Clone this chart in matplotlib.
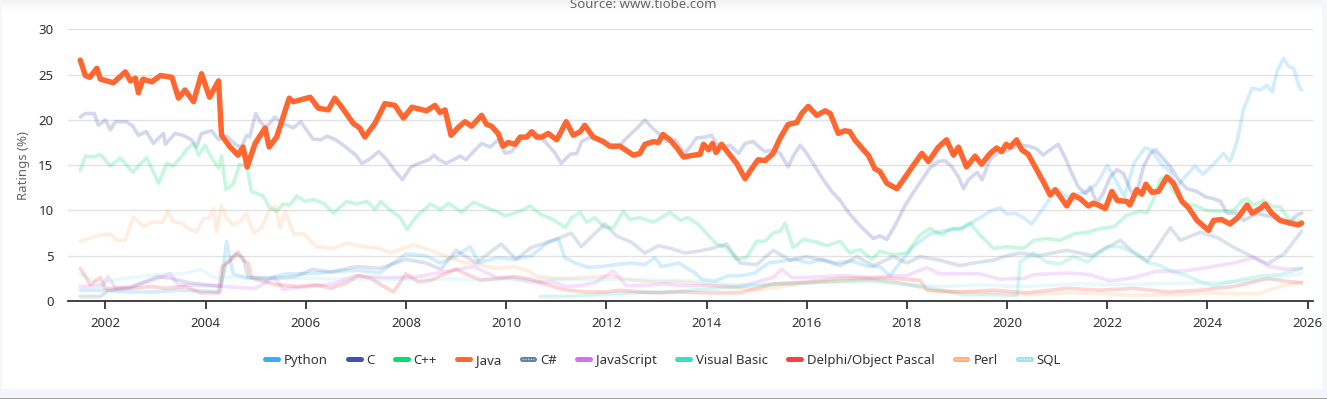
import matplotlib.pyplot as plt
from matplotlib.lines import Line2D
from matplotlib.patches import Rectangle

plt.rcParams['font.family'] = ['Noto Sans', 'DejaVu Sans']

# --- data (TIOBE ratings, %) ---
java_t = [2001.50, 2001.60, 2001.69, 2001.83, 2001.90, 2002.16, 2002.40, 2002.50, 2002.60, 2002.66,
          2002.75, 2002.93, 2003.10, 2003.33, 2003.46, 2003.59, 2003.76, 2003.92, 2004.08, 2004.26,
          2004.32, 2004.49, 2004.65, 2004.75, 2004.83, 2004.99, 2005.19, 2005.27, 2005.42, 2005.67,
          2005.75, 2006.09, 2006.25, 2006.45, 2006.58, 2006.72, 2006.95, 2007.08, 2007.18, 2007.38,
          2007.58, 2007.78, 2007.95, 2008.12, 2008.41, 2008.58, 2008.68, 2008.78, 2008.90, 2009.05,
          2009.18, 2009.31, 2009.51, 2009.61, 2009.71, 2009.84, 2009.94, 2010.04, 2010.18, 2010.28,
          2010.41, 2010.51, 2010.61, 2010.71, 2010.84, 2011.01, 2011.20, 2011.34, 2011.48, 2011.57,
          2011.74, 2011.94, 2012.07, 2012.27, 2012.54, 2012.67, 2012.77, 2012.94, 2013.04, 2013.13,
          2013.27, 2013.41, 2013.54, 2013.74, 2013.87, 2013.94, 2014.04, 2014.12, 2014.19, 2014.30,
          2014.47, 2014.60, 2014.77, 2014.90, 2015.03, 2015.17, 2015.33, 2015.47, 2015.63, 2015.80,
          2015.90, 2016.03, 2016.20, 2016.37, 2016.47, 2016.63, 2016.76, 2016.86, 2016.96, 2017.13,
          2017.23, 2017.36, 2017.46, 2017.60, 2017.80, 2017.93, 2018.13, 2018.30, 2018.43, 2018.63,
          2018.79, 2018.93, 2019.03, 2019.19, 2019.36, 2019.49, 2019.66, 2019.79, 2019.89, 2019.98,
          2020.06, 2020.19, 2020.29, 2020.42, 2020.59, 2020.72, 2020.86, 2020.96, 2021.09, 2021.19,
          2021.32, 2021.46, 2021.62, 2021.72, 2021.82, 2021.96, 2022.09, 2022.20, 2022.39, 2022.45,
          2022.59, 2022.69, 2022.77, 2022.89, 2023.02, 2023.19, 2023.32, 2023.49, 2023.62, 2023.79,
          2024.02, 2024.12, 2024.28, 2024.45, 2024.62, 2024.79, 2024.89, 2025.05, 2025.15, 2025.28,
          2025.45, 2025.65, 2025.81, 2025.88]
java_v = [26.6, 24.9, 24.7, 25.7, 24.5, 24.1, 25.3, 24.3, 24.6, 23.0,
          24.5, 24.2, 24.9, 24.7, 22.4, 23.3, 22.0, 25.1, 22.5, 24.3,
          18.3, 17.0, 16.1, 17.0, 14.8, 17.4, 19.1, 17.0, 18.1, 22.4,
          22.0, 22.5, 21.3, 21.1, 22.4, 21.4, 19.6, 19.1, 18.1, 19.6,
          21.8, 21.6, 20.2, 21.4, 21.0, 21.6, 20.8, 21.1, 18.3, 19.2,
          19.8, 19.3, 20.5, 19.5, 19.3, 18.5, 17.1, 17.5, 17.3, 18.1,
          18.1, 18.7, 18.1, 18.1, 18.5, 17.8, 19.8, 18.3, 18.7, 19.4,
          18.1, 17.6, 17.1, 17.1, 16.1, 16.3, 17.3, 17.6, 17.5, 18.4,
          17.8, 16.9, 15.9, 16.1, 16.2, 17.3, 16.7, 17.4, 16.4, 17.3,
          16.1, 15.2, 13.5, 14.6, 15.6, 15.5, 16.3, 18.0, 19.5, 19.7,
          20.7, 21.5, 20.5, 21.0, 20.7, 18.5, 18.8, 18.7, 17.8, 16.7,
          16.1, 14.6, 14.3, 13.0, 12.4, 13.4, 15.0, 16.3, 15.4, 17.0,
          17.8, 16.1, 17.0, 14.8, 16.0, 15.1, 16.3, 16.9, 16.5, 17.3,
          17.0, 17.8, 16.7, 16.2, 14.5, 13.2, 11.7, 12.3, 11.3, 10.5,
          11.7, 11.3, 10.5, 10.8, 10.6, 10.2, 12.1, 11.1, 11.0, 10.6,
          12.3, 11.8, 12.9, 12.0, 12.1, 13.7, 13.0, 11.0, 10.3, 8.9,
          7.8, 8.9, 9.0, 8.5, 9.3, 10.6, 9.7, 10.2, 10.7, 9.7,
          8.9, 8.6, 8.4, 8.6]

c_t = [2001.50, 2001.60, 2001.78, 2001.86, 2002.00, 2002.10, 2002.20, 2002.42, 2002.55, 2002.66,
       2002.82, 2002.96, 2003.16, 2003.20, 2003.39, 2003.55, 2003.72, 2003.82, 2003.92, 2004.12,
       2004.26, 2004.42, 2004.62, 2004.72, 2004.82, 2004.88, 2005.00, 2005.08, 2005.20, 2005.38,
       2005.55, 2005.75, 2005.90, 2006.14, 2006.30, 2006.43, 2006.60, 2006.80, 2007.00, 2007.12,
       2007.26, 2007.46, 2007.62, 2007.76, 2007.93, 2008.10, 2008.26, 2008.46, 2008.56, 2008.66,
       2008.80, 2008.95, 2009.08, 2009.20, 2009.35, 2009.51, 2009.68, 2009.84, 2009.98, 2010.11,
       2010.28, 2010.44, 2010.58, 2010.68, 2010.81, 2010.98, 2011.10, 2011.28, 2011.41, 2011.51,
       2011.64, 2011.80, 2011.97, 2012.10, 2012.24, 2012.37, 2012.54, 2012.67, 2012.77, 2012.90,
       2013.04, 2013.20, 2013.37, 2013.47, 2013.57, 2013.67, 2013.80, 2013.97, 2014.10, 2014.20,
       2014.34, 2014.47, 2014.64, 2014.77, 2014.93, 2015.07, 2015.17, 2015.33, 2015.47, 2015.63,
       2015.73, 2015.87, 2016.00, 2016.17, 2016.33, 2016.50, 2016.67, 2016.83, 2017.00, 2017.16,
       2017.33, 2017.46, 2017.60, 2017.76, 2017.96, 2018.13, 2018.30, 2018.46, 2018.63, 2018.76,
       2018.90, 2019.03, 2019.13, 2019.23, 2019.40, 2019.50, 2019.66, 2019.79, 2019.96, 2020.13,
       2020.26, 2020.43, 2020.59, 2020.72, 2020.86, 2021.02, 2021.16, 2021.29, 2021.42, 2021.56,
       2021.66, 2021.79, 2021.92, 2022.06, 2022.19, 2022.32, 2022.49, 2022.62, 2022.72, 2022.86,
       2022.96, 2023.09, 2023.26, 2023.42, 2023.59, 2023.79, 2023.96, 2024.12, 2024.26, 2024.39,
       2024.59, 2024.72, 2024.86, 2024.99, 2025.12, 2025.29, 2025.45, 2025.65, 2025.79, 2025.88]
c_v = [20.3, 20.7, 20.7, 19.4, 20.0, 18.9, 19.8, 19.8, 19.3, 18.3,
       18.7, 17.4, 18.5, 17.3, 18.5, 18.3, 17.8, 17.0, 18.5, 18.8,
       17.8, 18.2, 17.2, 17.0, 18.3, 18.1, 20.7, 19.9, 19.1, 20.3,
       19.6, 19.1, 19.8, 17.9, 17.8, 18.2, 17.8, 17.0, 16.1, 15.2,
       15.6, 16.5, 15.6, 14.5, 13.4, 14.8, 15.2, 15.6, 16.1, 15.6,
       15.2, 15.6, 16.0, 15.6, 16.5, 17.4, 17.0, 17.8, 16.3, 16.5,
       17.8, 18.3, 18.7, 18.1, 17.4, 16.3, 15.2, 16.2, 16.3, 17.6,
       18.0, 18.0, 17.4, 16.9, 17.0, 17.8, 18.7, 19.4, 20.0, 19.2,
       18.5, 17.6, 17.8, 17.0, 16.3, 17.0, 18.0, 18.1, 18.3, 17.4,
       17.0, 17.2, 16.3, 17.4, 17.6, 16.9, 16.5, 16.7, 16.3, 14.8,
       16.0, 17.2, 16.3, 14.8, 13.4, 12.1, 11.1, 9.8, 8.7, 7.8,
       6.9, 7.2, 6.8, 8.3, 10.5, 12.0, 13.4, 14.7, 15.4, 15.5,
       14.8, 13.7, 12.4, 13.4, 14.2, 13.4, 15.6, 16.3, 16.5, 17.0,
       17.2, 17.1, 16.8, 16.1, 16.7, 17.3, 15.8, 14.1, 12.6, 11.9,
       12.6, 10.8, 11.9, 13.7, 14.5, 14.1, 11.9, 12.6, 14.8, 16.3,
       16.7, 15.9, 14.8, 13.4, 12.4, 12.1, 11.5, 11.3, 11.0, 9.7,
       9.7, 8.9, 9.3, 9.7, 9.5, 9.3, 8.8, 8.8, 9.5, 9.7]

cpp_t = [2001.50, 2001.60, 2001.77, 2001.90, 2002.10, 2002.30, 2002.55, 2002.67, 2002.83, 2003.06,
         2003.23, 2003.35, 2003.50, 2003.63, 2003.76, 2003.86, 2003.99, 2004.12, 2004.26, 2004.32,
         2004.41, 2004.55, 2004.68, 2004.82, 2004.92, 2005.15, 2005.28, 2005.42, 2005.55, 2005.68,
         2005.82, 2005.99, 2006.16, 2006.36, 2006.55, 2006.82, 2007.02, 2007.22, 2007.39, 2007.49,
         2007.72, 2007.89, 2008.02, 2008.22, 2008.49, 2008.69, 2008.85, 2009.11, 2009.35, 2009.61,
         2009.84, 2009.98, 2010.28, 2010.48, 2010.68, 2010.94, 2011.18, 2011.31, 2011.48, 2011.61,
         2011.77, 2011.97, 2012.14, 2012.34, 2012.47, 2012.67, 2012.94, 2013.27, 2013.47, 2013.63,
         2013.83, 2014.04, 2014.20, 2014.40, 2014.60, 2014.80, 2015.00, 2015.17, 2015.33, 2015.47,
         2015.57, 2015.73, 2015.93, 2016.20, 2016.40, 2016.67, 2016.86, 2017.06, 2017.30, 2017.46,
         2017.73, 2018.00, 2018.26, 2018.46, 2018.70, 2018.90, 2019.06, 2019.26, 2019.46, 2019.73,
         2019.99, 2020.33, 2020.53, 2020.79, 2021.06, 2021.33, 2021.60, 2021.86, 2022.13, 2022.39,
         2022.66, 2022.79, 2022.93, 2023.06, 2023.19, 2023.32, 2023.52, 2023.72, 2023.99, 2024.26,
         2024.52, 2024.69, 2024.79, 2024.92, 2025.12, 2025.32, 2025.45, 2025.65, 2025.88]
cpp_v = [14.4, 16.0, 15.9, 16.2, 14.9, 15.8, 14.2, 15.0, 15.8, 13.0,
         15.2, 14.9, 15.8, 16.8, 17.4, 16.1, 17.2, 15.8, 14.7, 16.0,
         12.3, 12.9, 15.1, 14.9, 12.1, 11.6, 10.3, 9.9, 10.7, 10.6,
         11.6, 11.0, 11.2, 10.8, 9.7, 11.0, 10.7, 11.0, 10.1, 11.0,
         9.9, 9.2, 7.9, 9.4, 10.7, 10.1, 10.8, 9.8, 10.9, 10.3,
         9.8, 9.4, 9.9, 10.5, 9.6, 9.0, 8.1, 9.2, 9.8, 8.7,
         9.2, 8.1, 8.1, 9.9, 9.0, 9.2, 8.7, 9.8, 8.9, 9.2,
         8.5, 7.2, 6.3, 5.9, 4.6, 4.8, 6.6, 6.6, 7.5, 7.7,
         8.6, 5.9, 6.8, 6.5, 6.1, 6.6, 5.3, 5.7, 4.6, 5.5,
         5.1, 5.3, 7.3, 8.0, 7.3, 8.0, 7.9, 8.6, 7.3, 5.8,
         6.0, 5.8, 6.7, 6.9, 6.7, 7.4, 7.6, 8.0, 8.2, 9.5,
         9.9, 9.7, 11.3, 13.5, 13.7, 12.1, 10.8, 10.6, 10.0, 9.9,
         10.0, 11.1, 11.3, 10.6, 11.1, 10.4, 10.4, 8.8, 8.8]

python_t = [2001.50, 2002.00, 2002.50, 2003.00, 2003.50, 2004.00, 2004.30, 2004.42, 2004.55, 2004.80,
            2005.20, 2005.60, 2006.00, 2006.50, 2007.00, 2007.48, 2008.00, 2008.40, 2008.68, 2009.00,
            2009.28, 2009.46, 2009.84, 2010.15, 2010.51, 2010.84, 2011.04, 2011.17, 2011.37, 2011.64,
            2011.90, 2012.17, 2012.50, 2012.77, 2012.97, 2013.10, 2013.44, 2013.77, 2013.90, 2014.17,
            2014.44, 2014.70, 2014.97, 2015.24, 2015.50, 2015.77, 2016.04, 2016.30, 2016.57, 2016.90,
            2017.24, 2017.46, 2017.66, 2017.86, 2018.13, 2018.46, 2018.79, 2019.13, 2019.46, 2019.66,
            2019.86, 2019.99, 2020.16, 2020.33, 2020.49, 2020.73, 2020.99, 2021.19, 2021.40, 2021.60,
            2021.80, 2022.00, 2022.20, 2022.34, 2022.54, 2022.75, 2022.88, 2023.08, 2023.25, 2023.38,
            2023.55, 2023.75, 2023.91, 2024.12, 2024.32, 2024.45, 2024.59, 2024.72, 2024.89, 2025.05,
            2025.19, 2025.29, 2025.39, 2025.52, 2025.62, 2025.72, 2025.82, 2025.88]
python_v = [1.2, 1.2, 1.0, 1.0, 1.2, 1.1, 1.0, 6.6, 3.0, 2.6,
            2.4, 3.0, 3.0, 3.2, 3.4, 3.1, 5.2, 5.0, 4.2, 5.0,
            6.0, 4.2, 4.8, 4.6, 5.0, 6.5, 6.9, 4.8, 4.2, 3.7,
            3.8, 4.0, 4.2, 4.0, 4.8, 3.8, 4.2, 3.1, 2.4, 2.2,
            2.8, 2.8, 3.1, 4.2, 4.4, 4.6, 4.2, 4.6, 4.2, 4.4,
            3.8, 3.8, 2.8, 4.2, 6.0, 7.4, 7.8, 8.1, 9.2, 9.9,
            10.3, 9.6, 9.7, 9.2, 8.5, 10.3, 12.4, 11.5, 11.8, 12.0,
            13.0, 15.0, 13.0, 11.5, 15.3, 16.9, 16.7, 15.1, 14.3, 12.6,
            13.7, 14.9, 14.0, 15.1, 16.3, 15.4, 17.6, 21.2, 23.5, 23.3,
            23.8, 23.1, 25.4, 26.8, 25.9, 25.7, 23.8, 23.3]

csharp_t = [2001.50, 2001.90, 2002.05, 2002.50, 2003.05, 2003.30, 2003.70, 2004.00, 2004.30, 2004.40,
            2004.60, 2004.75, 2004.85, 2005.00, 2005.40, 2005.80, 2006.14, 2006.50, 2007.00, 2007.48,
            2008.00, 2008.40, 2008.70, 2009.00, 2009.40, 2009.90, 2010.20, 2010.50, 2011.00, 2011.30,
            2011.50, 2011.97, 2012.20, 2012.50, 2012.77, 2013.04, 2013.30, 2013.57, 2013.84, 2014.10,
            2014.40, 2014.67, 2015.00, 2015.33, 2015.67, 2016.00, 2016.33, 2016.67, 2017.00, 2017.33,
            2017.73, 2018.00, 2018.26, 2018.66, 2019.06, 2019.33, 2019.73, 2019.99, 2020.26, 2020.60,
            2021.20, 2021.70, 2022.26, 2022.50, 2022.80, 2023.26, 2023.46, 2023.86, 2024.20, 2024.53,
            2024.93, 2025.20, 2025.53, 2025.88]
csharp_v = [0.5, 0.5, 1.1, 1.5, 2.7, 2.5, 2.0, 1.8, 1.6, 4.0,
            5.2, 4.8, 2.6, 2.6, 2.5, 2.7, 3.5, 3.2, 3.8, 3.6,
            4.6, 4.2, 3.5, 5.6, 4.2, 6.3, 4.6, 5.9, 6.8, 7.5,
            6.0, 8.5, 7.2, 6.5, 5.3, 6.1, 5.8, 5.3, 5.5, 5.8,
            6.3, 4.2, 4.0, 5.6, 4.5, 4.9, 4.5, 3.9, 4.9, 3.9,
            4.9, 4.2, 4.9, 4.5, 3.9, 4.2, 4.5, 5.0, 5.3, 5.0,
            5.6, 5.0, 6.7, 5.5, 4.4, 8.1, 6.7, 7.6, 7.0, 5.9,
            4.8, 4.1, 5.2, 7.7]

js_t = [2001.50, 2001.95, 2002.05, 2002.20, 2002.50, 2003.00, 2003.30, 2003.45, 2003.90, 2004.20,
        2004.60, 2005.00, 2005.37, 2005.55, 2006.10, 2006.55, 2007.00, 2007.48, 2008.15, 2008.82,
        2009.35, 2009.81, 2010.15, 2010.48, 2010.94, 2011.20, 2011.50, 2011.80, 2012.14, 2012.40,
        2012.80, 2013.14, 2013.48, 2014.00, 2014.67, 2015.33, 2015.50, 2015.70, 2016.00, 2016.67,
        2017.33, 2017.73, 2018.00, 2018.40, 2018.66, 2019.06, 2019.46, 2019.86, 2020.33, 2020.53,
        2021.20, 2021.66, 2022.06, 2022.53, 2022.99, 2023.53, 2024.00, 2024.53, 2024.93, 2025.20,
        2025.53, 2025.88]
js_v = [1.6, 1.7, 2.7, 1.5, 1.5, 2.4, 3.0, 1.8, 1.7, 1.7,
        1.5, 1.4, 2.6, 1.3, 1.6, 1.9, 2.8, 2.6, 2.6, 3.3,
        3.8, 2.6, 2.5, 2.1, 2.1, 1.6, 1.7, 2.1, 3.3, 1.7,
        1.7, 1.9, 1.7, 1.7, 1.6, 2.6, 3.5, 2.6, 2.6, 2.8,
        2.6, 2.8, 2.8, 3.7, 3.0, 3.0, 3.0, 2.4, 2.5, 2.9,
        3.1, 2.9, 2.2, 2.6, 3.3, 3.3, 3.7, 4.2, 4.8, 3.9,
        3.5, 3.6]

vb_t = [2010.68, 2011.20, 2011.80, 2012.50, 2013.20, 2014.00, 2014.70, 2015.30, 2016.00, 2016.70,
        2017.30, 2017.80, 2018.50, 2019.10, 2019.70, 2020.20, 2020.26, 2020.53, 2020.79, 2021.06,
        2021.33, 2021.60, 2021.99, 2022.26, 2022.53, 2022.79, 2023.06, 2023.32, 2023.59, 2023.86,
        2024.12, 2024.46, 2024.79, 2025.12, 2025.45, 2025.88]
vb_v = [0.5, 0.5, 0.7, 0.9, 1.0, 1.3, 1.6, 1.8, 2.0, 2.2,
        2.3, 2.0, 1.4, 0.7, 0.7, 0.6, 4.3, 5.3, 4.3, 4.1,
        4.9, 4.3, 6.0, 6.0, 5.3, 4.3, 3.9, 3.2, 2.8, 2.1,
        1.7, 2.1, 2.5, 2.8, 2.9, 3.6]

delphi_t = [2001.50, 2001.70, 2001.90, 2002.00, 2002.55, 2002.90, 2003.20, 2003.60, 2003.90, 2004.26,
            2004.33, 2004.50, 2004.65, 2004.75, 2004.85, 2004.92, 2005.00, 2005.20, 2005.40, 2005.85,
            2006.20, 2006.50, 2006.85, 2007.05, 2007.30, 2007.50, 2007.75, 2008.00, 2008.25, 2008.50,
            2008.82, 2009.00, 2009.48, 2009.88, 2010.15, 2010.41, 2010.94, 2011.20, 2011.60, 2012.00,
            2012.27, 2012.67, 2013.07, 2013.48, 2014.00, 2014.67, 2015.33, 2016.00, 2016.67, 2017.33,
            2017.73, 2018.26, 2018.40, 2019.06, 2019.73, 2020.39, 2021.20, 2021.86, 2022.53, 2023.20,
            2023.86, 2024.53, 2025.20, 2025.53, 2025.88]
delphi_v = [3.6, 1.8, 2.6, 1.4, 1.4, 1.6, 1.4, 1.6, 0.9, 0.9,
            3.8, 4.5, 5.4, 4.5, 4.2, 2.6, 2.4, 2.1, 1.8, 1.6,
            1.8, 1.4, 2.1, 2.8, 2.5, 1.8, 1.0, 3.0, 2.1, 2.3,
            3.1, 3.5, 2.3, 2.5, 2.7, 2.5, 1.6, 1.2, 1.0, 1.0,
            1.2, 1.0, 0.9, 1.0, 0.9, 0.9, 1.9, 2.1, 2.5, 2.5,
            2.5, 2.3, 1.2, 1.0, 1.2, 0.9, 1.4, 1.2, 1.4, 1.0,
            1.2, 1.6, 2.5, 2.2, 2.0]

perl_t = [2001.50, 2001.83, 2002.10, 2002.23, 2002.40, 2002.56, 2002.76, 2002.93, 2003.15, 2003.25,
          2003.35, 2003.52, 2003.69, 2003.82, 2003.96, 2004.06, 2004.16, 2004.22, 2004.32, 2004.42,
          2004.56, 2004.69, 2004.82, 2004.96, 2005.12, 2005.26, 2005.39, 2005.49, 2005.59, 2005.76,
          2005.96, 2006.22, 2006.55, 2006.82, 2007.15, 2007.48, 2007.70, 2008.15, 2008.48, 2008.82,
          2009.15, 2009.48, 2009.81, 2010.15, 2010.41, 2010.61, 2010.94, 2011.34, 2011.74, 2012.14,
          2012.54, 2012.94, 2013.48, 2013.88, 2014.50, 2015.00, 2015.50, 2016.00, 2016.60, 2017.20,
          2017.70, 2018.20, 2018.60, 2019.20, 2019.80, 2020.30, 2020.80, 2021.30, 2022.00, 2022.50,
          2023.00, 2023.50, 2024.00, 2024.50, 2025.00, 2025.40, 2025.88]
perl_v = [6.6, 7.2, 7.4, 6.7, 6.7, 9.3, 8.2, 8.7, 8.7, 10.0,
          8.8, 8.6, 7.9, 7.6, 9.1, 9.1, 10.2, 7.6, 10.5, 9.1,
          8.4, 8.8, 9.7, 7.5, 8.1, 9.9, 10.5, 8.1, 9.9, 7.4,
          7.4, 6.0, 5.8, 6.4, 6.0, 5.8, 5.3, 6.2, 5.6, 4.9,
          4.3, 4.0, 3.6, 3.8, 3.4, 2.7, 2.5, 2.5, 2.7, 2.7,
          2.3, 2.1, 2.1, 1.9, 1.5, 1.2, 1.6, 2.0, 2.2, 2.4,
          2.2, 1.6, 1.0, 1.0, 0.9, 0.7, 0.8, 0.9, 0.8, 0.6,
          0.7, 0.7, 0.9, 0.8, 0.8, 1.5, 2.1]

sql_t = [2001.50, 2001.90, 2002.23, 2002.56, 2003.23, 2003.56, 2003.90, 2004.16, 2004.56, 2005.00,
         2006.00, 2007.00, 2008.00, 2009.00, 2010.00, 2011.00, 2012.00, 2013.00, 2013.80, 2014.50,
         2015.50, 2016.50, 2017.46, 2018.00, 2018.70, 2019.50, 2020.13, 2020.80, 2021.46, 2022.20,
         2023.00, 2023.80, 2024.50, 2025.20, 2025.88]
sql_v = [3.0, 1.9, 2.4, 2.6, 3.0, 3.0, 3.5, 2.6, 2.6, 2.5,
         2.5, 2.4, 2.4, 2.4, 2.4, 2.4, 2.4, 2.3, 2.2, 1.8,
         1.9, 2.1, 2.1, 1.8, 1.6, 1.8, 1.6, 1.7, 1.9, 1.8,
         1.9, 2.0, 2.1, 2.4, 3.0]

languages = ['Python', 'C', 'C++', 'Java', 'C#', 'JavaScript', 'Visual Basic',
             'Delphi/Object Pascal', 'Perl', 'SQL']
series = {
    'Python': (python_t, python_v), 'C': (c_t, c_v), 'C++': (cpp_t, cpp_v),
    'Java': (java_t, java_v), 'C#': (csharp_t, csharp_v), 'JavaScript': (js_t, js_v),
    'Visual Basic': (vb_t, vb_v), 'Delphi/Object Pascal': (delphi_t, delphi_v),
    'Perl': (perl_t, perl_v), 'SQL': (sql_t, sql_v),
}
colors = {
    'Python': '#36AEF7', 'C': '#3F51B5', 'C++': '#00E070', 'Java': '#FF6630',
    'C#': '#5E7EAD', 'JavaScript': '#D56FF3', 'Visual Basic': '#36DEC4',
    'Delphi/Object Pascal': '#F4433C', 'Perl': '#FFAE72', 'SQL': '#9FE2EA',
}
patterned = ['C#', 'Perl', 'SQL']
highlight = 'Java'

W, H = 1327, 399
fig = plt.figure(figsize=(W / 100, H / 100), dpi=100, facecolor='#F3F6FA')

# white card + soft top shadow + bottom rule (behind the axes)
fig.patches.append(Rectangle((2 / W, 1 - 389 / H), 1320 / W, 389 / H, transform=fig.transFigure,
                             facecolor='white', edgecolor='none', zorder=-2))
for i in range(10):
    fig.patches.append(Rectangle((2 / W, 1 - (i + 1) / H), 1320 / W, 1 / H, transform=fig.transFigure,
                                 facecolor='black', alpha=0.05 * (1 - i / 10), edgecolor='none', zorder=-1))
fig.patches.append(Rectangle((0, 0), 1, 1.5 / H, transform=fig.transFigure,
                             facecolor='#A0A0A0', edgecolor='none', zorder=-1))

ax = fig.add_axes([68 / W, 1 - 301 / H, (1313 - 68) / W, (301 - 29.3) / H])
ax.set_facecolor('none')

for name in languages:
    if name == highlight:
        continue
    t, v = series[name]
    ax.plot(t, v, color=colors[name], lw=2.6, alpha=0.22, solid_joinstyle='round',
            solid_capstyle='round', zorder=2)
t, v = series[highlight]
ax.plot(t, v, color=colors[highlight], lw=3.9, solid_joinstyle='round',
        solid_capstyle='round', zorder=5)

ax.set_xlim(2001.255, 2026.106)
ax.set_ylim(0, 30)
ax.set_xticks(range(2002, 2027, 2))
ax.set_yticks(range(0, 31, 5))
ax.yaxis.grid(True, color='#E2E2E2', lw=1)
ax.set_axisbelow(True)
for s in ['left', 'top', 'right']:
    ax.spines[s].set_visible(False)
ax.spines['bottom'].set_color('#333333')
ax.spines['bottom'].set_linewidth(1.3)
ax.tick_params(axis='x', length=6, width=1.3, color='#333333', pad=5.5, labelsize=9.5, labelcolor='#333333')
ax.tick_params(axis='y', length=0, pad=10.5, labelsize=9.5, labelcolor='#333333')
ax.set_ylabel('Ratings (%)', fontsize=9.5, color='#666666')
ax.yaxis.set_label_coords(-0.0305, 0.5)

fig.text(643 / W, 1 - 8 / H, 'Source: www.tiobe.com', ha='center', va='baseline',
         fontsize=9.5, color='#666666')

handles = []
for name in languages:
    h = Line2D([], [], color=colors[name], lw=3.6, solid_capstyle='round')
    if name in patterned:
        h = (h, Line2D([], [], color='white', lw=1.0, ls=(0, (1, 1)), alpha=0.7))
    handles.append(h)
fig.legend(handles, languages, loc='center', bbox_to_anchor=(663 / W, 1 - 360.5 / H),
           bbox_transform=fig.transFigure, ncol=len(languages), frameon=False, fontsize=9.5,
           labelcolor='#333333', handlelength=0.95, handletextpad=0.45, columnspacing=1.55,
           borderaxespad=0)

fig.savefig('out.png', dpi=100, facecolor=fig.get_facecolor())
